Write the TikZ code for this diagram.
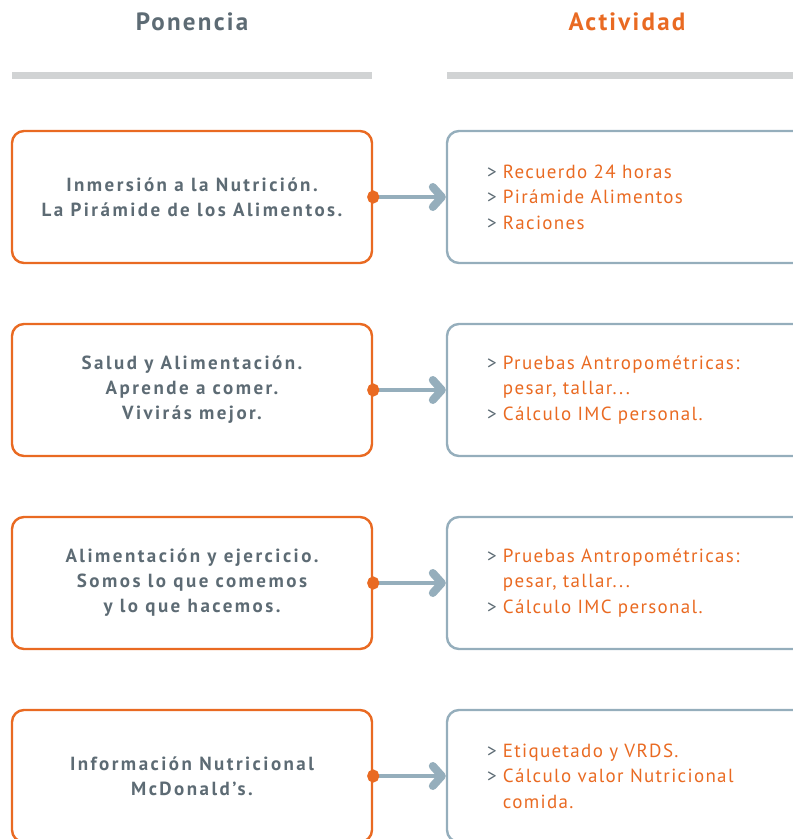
\documentclass[tikz,border=0pt]{standalone}
\usepackage{fontspec}
\setmainfont{PT Sans}
\newfontfamily\ponfont{PT Sans}[LetterSpace=13]
\newfontfamily\actfont{PT Sans}[LetterSpace=7]
\newfontfamily\headfont{PT Sans}[LetterSpace=9]
\usetikzlibrary{positioning,arrows.meta}

\definecolor{ponorange}{HTML}{E96A22}
\definecolor{actblue}{HTML}{95AEBC}
\definecolor{txtgray}{HTML}{5D6B74}
\definecolor{bargray}{HTML}{D1D3D4}
\newcommand{\actitem}[1]{{\color{txtgray}>}~{\color{ponorange}#1}}
\newcommand{\actcont}[1]{\hphantom{>~}{\color{ponorange}#1}}

\begin{document}
\begin{tikzpicture}[x=1pt,y=-1pt]
    \tikzstyle{colhead}=[font=\headfont\bfseries\fontsize{25}{28}\selectfont]
    \tikzstyle{ponbox}=[draw=ponorange, line width=2.4pt, rounded corners=12pt,
                        minimum width=360pt, minimum height=132pt, align=center,
                        text=txtgray, font=\ponfont\bfseries\fontsize{19}{25}\selectfont]
    \tikzstyle{actbox}=[draw=actblue, line width=2.4pt, rounded corners=12pt,
                        minimum width=400pt, minimum height=132pt, inner xsep=0pt,
                        text width=320pt, align=left, font=\actfont\fontsize{19}{25.5}\selectfont]
    \tikzstyle{link}=[actblue, line width=3.5pt, shorten <=-6pt,
                      {Circle[color=ponorange,length=12pt,width=13pt]}-{Straight Barb[length=9pt,width=20pt,line width=8pt,round]}]

    \useasboundingbox (0,0) rectangle (793,839);
    \clip (0,0) rectangle (793,839);

    % Column headers
    \node [colhead,text=txtgray] (ponhead) at (192,22) {Ponencia};
    \node [colhead,text=ponorange] (acthead) at (627,22) {Actividad};
    \fill [bargray] (12,72) rectangle (372,79);
    \fill [bargray] (447,72) rectangle (800,79);

    % Ponencia boxes
    \begin{scope}[node distance=58.6pt]
        \node [ponbox] at (192,197) (pon1) {Inmersión a la Nutrición.\\La Pirámide de los Alimentos.};
        \node [ponbox,below=of pon1] (pon2) {Salud y Alimentación.\\Aprende a comer.\\Vivirás mejor.};
        \node [ponbox,below=of pon2] (pon3) {Alimentación y ejercicio.\\Somos lo que comemos\\y lo que hacemos.};
        \node [ponbox,below=of pon3] (pon4) {Información Nutricional\\McDonald’s.};
    \end{scope}

    % Actividad boxes
    \begin{scope}[node distance=72.6pt]
        \node [actbox,right=of pon1] (act1) {\actitem{Recuerdo 24 horas}\\\actitem{Pirámide Alimentos}\\\actitem{Raciones}};
        \node [actbox,right=of pon2] (act2) {\actitem{Pruebas Antropométricas:}\\\actcont{pesar, tallar...}\\\actitem{Cálculo IMC personal.}};
        \node [actbox,right=of pon3] (act3) {\actitem{Pruebas Antropométricas:}\\\actcont{pesar, tallar...}\\\actitem{Cálculo IMC personal.}};
        \node [actbox,right=of pon4] (act4) {\actitem{Etiquetado y VRDS.}\\\actitem{Cálculo valor Nutricional}\\\actcont{comida.}};
    \end{scope}

    % Links
    \draw [link] (pon1.east) -- (act1.west);
    \draw [link] (pon2.east) -- (act2.west);
    \draw [link] (pon3.east) -- (act3.west);
    \draw [link] (pon4.east) -- (act4.west);
\end{tikzpicture}
\end{document}
